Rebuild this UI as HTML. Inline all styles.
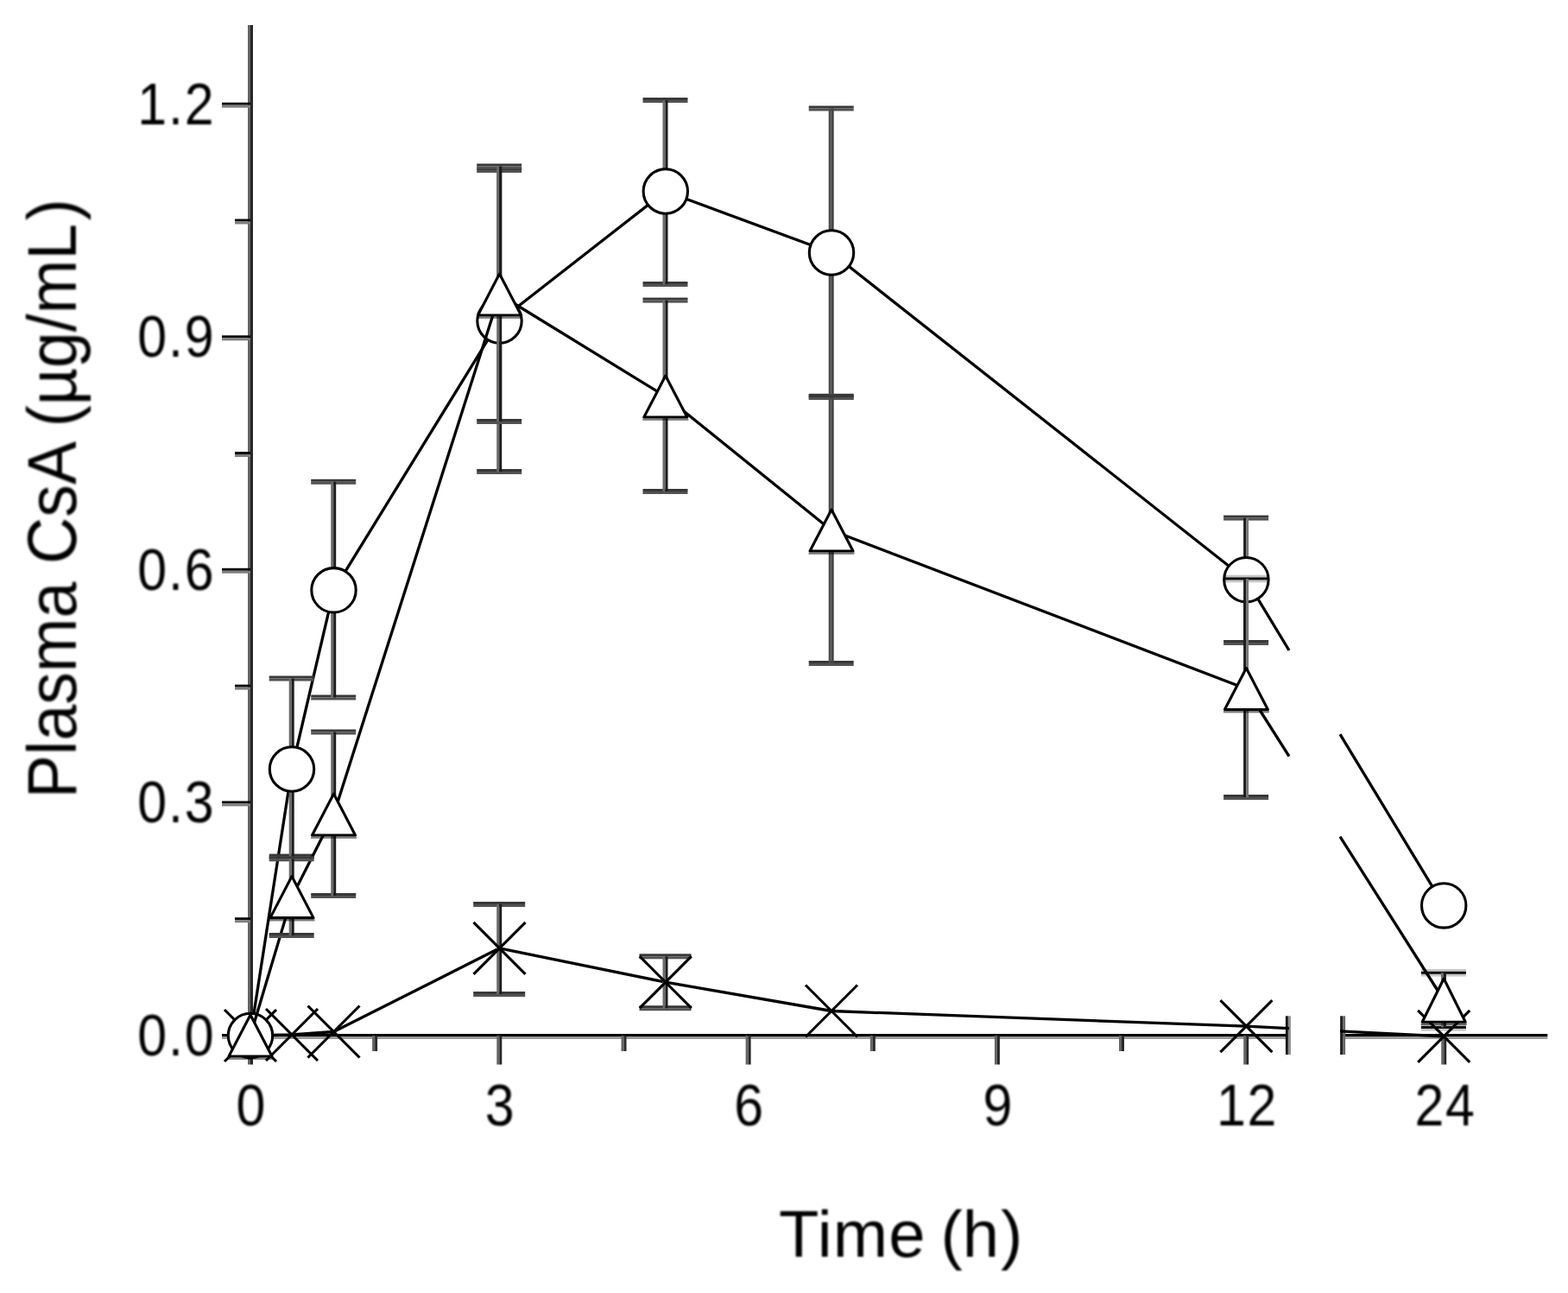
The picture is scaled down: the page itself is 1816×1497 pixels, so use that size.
<!DOCTYPE html>
<html lang="en">
<head>
<meta charset="utf-8">
<title>Plasma CsA vs Time</title>
<style>
  html, body { margin: 0; padding: 0; background: #ffffff; }
  body { width: 1816px; height: 1497px; overflow: hidden; font-family: "Liberation Sans", Arial, Helvetica, sans-serif; }
  svg { display: block; }
  /* the reference type is a soft, up-scaled raster */
  #labels { filter: blur(0.8px); }
</style>
</head>
<body>
<svg width="1816" height="1497" viewBox="0 0 1816 1497" role="img" aria-label="Plasma CsA concentration versus time">
<rect x="0" y="0" width="1816" height="1497" fill="#ffffff"/>
<g id="axes">
<rect x="287.0" y="29.0" width="3.0" height="1173.0" fill="#646464"/>
<rect x="290.0" y="29.0" width="3.0" height="1173.0" fill="#282828"/>
<rect x="257.0" y="1197.0" width="1234.5" height="3.0" fill="#000"/>
<rect x="257.0" y="1200.0" width="1234.5" height="3.0" fill="#9a9a9a"/>
<rect x="1554.5" y="1197.0" width="237.8" height="3.0" fill="#000"/>
<rect x="1554.5" y="1200.0" width="237.8" height="3.0" fill="#9a9a9a"/>
<rect x="257.0" y="927.4" width="33.0" height="3.0" fill="#0a0a0a"/>
<rect x="257.0" y="930.4" width="33.0" height="3.0" fill="#7e7e7e"/>
<rect x="257.0" y="657.8" width="33.0" height="3.0" fill="#0a0a0a"/>
<rect x="257.0" y="660.8" width="33.0" height="3.0" fill="#7e7e7e"/>
<rect x="257.0" y="388.3" width="33.0" height="3.0" fill="#0a0a0a"/>
<rect x="257.0" y="391.3" width="33.0" height="3.0" fill="#7e7e7e"/>
<rect x="257.0" y="118.7" width="33.0" height="3.0" fill="#0a0a0a"/>
<rect x="257.0" y="121.7" width="33.0" height="3.0" fill="#7e7e7e"/>
<rect x="272.0" y="1062.2" width="18.0" height="3.0" fill="#0a0a0a"/>
<rect x="272.0" y="1065.2" width="18.0" height="3.0" fill="#7e7e7e"/>
<rect x="272.0" y="792.6" width="18.0" height="3.0" fill="#0a0a0a"/>
<rect x="272.0" y="795.6" width="18.0" height="3.0" fill="#7e7e7e"/>
<rect x="272.0" y="523.0" width="18.0" height="3.0" fill="#0a0a0a"/>
<rect x="272.0" y="526.0" width="18.0" height="3.0" fill="#7e7e7e"/>
<rect x="272.0" y="253.5" width="18.0" height="3.0" fill="#0a0a0a"/>
<rect x="272.0" y="256.5" width="18.0" height="3.0" fill="#7e7e7e"/>
<rect x="287.0" y="1199.0" width="3.0" height="33.5" fill="#646464"/>
<rect x="290.0" y="1199.0" width="3.0" height="33.5" fill="#282828"/>
<rect x="575.3" y="1199.0" width="3.0" height="33.5" fill="#646464"/>
<rect x="578.3" y="1199.0" width="3.0" height="33.5" fill="#282828"/>
<rect x="863.6" y="1199.0" width="3.0" height="33.5" fill="#646464"/>
<rect x="866.6" y="1199.0" width="3.0" height="33.5" fill="#282828"/>
<rect x="1151.9" y="1199.0" width="3.0" height="33.5" fill="#646464"/>
<rect x="1154.9" y="1199.0" width="3.0" height="33.5" fill="#282828"/>
<rect x="1440.2" y="1199.0" width="3.0" height="33.5" fill="#646464"/>
<rect x="1443.2" y="1199.0" width="3.0" height="33.5" fill="#282828"/>
<rect x="1669.2" y="1199.0" width="3.0" height="33.5" fill="#646464"/>
<rect x="1672.2" y="1199.0" width="3.0" height="33.5" fill="#282828"/>
<rect x="431.1" y="1199.0" width="3.0" height="18.0" fill="#646464"/>
<rect x="434.1" y="1199.0" width="3.0" height="18.0" fill="#282828"/>
<rect x="719.5" y="1199.0" width="3.0" height="18.0" fill="#646464"/>
<rect x="722.5" y="1199.0" width="3.0" height="18.0" fill="#282828"/>
<rect x="1007.8" y="1199.0" width="3.0" height="18.0" fill="#646464"/>
<rect x="1010.8" y="1199.0" width="3.0" height="18.0" fill="#282828"/>
<rect x="1296.0" y="1199.0" width="3.0" height="18.0" fill="#646464"/>
<rect x="1299.0" y="1199.0" width="3.0" height="18.0" fill="#282828"/>
<rect x="1488.9" y="1176.3" width="3.0" height="44.7" fill="#161616"/>
<rect x="1491.9" y="1176.3" width="3.0" height="44.7" fill="#8c8c8c"/>
<rect x="1552.1" y="1176.3" width="3.0" height="44.7" fill="#222"/>
<rect x="1555.1" y="1176.3" width="3.0" height="44.7" fill="#666"/>
</g>
<g id="series-x">
<polyline points="290.0,1199.0 338.0,1198.0 386.5,1194.5 578.5,1097.8 770.8,1137.2 963.0,1170.5 1443.4,1188.2" fill="none" stroke="#000" stroke-width="3.3" stroke-linejoin="round"/>
<line x1="1443.4" y1="1188.2" x2="1493.0" y2="1190.7" stroke="#000" stroke-width="3.3"/>
<line x1="1552.0" y1="1193.8" x2="1672.2" y2="1199.9" stroke="#000" stroke-width="3.3"/>
<rect x="548.2" y="1044.0" width="60.0" height="3.0" fill="#383838"/>
<rect x="548.2" y="1047.0" width="60.0" height="3.0" fill="#525252"/>
<rect x="548.2" y="1148.0" width="60.0" height="3.0" fill="#383838"/>
<rect x="548.2" y="1151.0" width="60.0" height="3.0" fill="#525252"/>
<rect x="575.2" y="1047.0" width="3.0" height="104.0" fill="#6a6a6a"/>
<rect x="578.2" y="1047.0" width="3.0" height="104.0" fill="#1c1c1c"/>
<rect x="740.5" y="1104.3" width="60.0" height="3.0" fill="#383838"/>
<rect x="740.5" y="1107.3" width="60.0" height="3.0" fill="#525252"/>
<rect x="740.5" y="1164.2" width="60.0" height="3.0" fill="#383838"/>
<rect x="740.5" y="1167.2" width="60.0" height="3.0" fill="#525252"/>
<rect x="767.5" y="1107.3" width="3.0" height="59.9" fill="#6a6a6a"/>
<rect x="770.5" y="1107.3" width="3.0" height="59.9" fill="#1c1c1c"/>
<line x1="260.0" y1="1169.0" x2="320.0" y2="1229.0" stroke="#000" stroke-width="3.1"/>
<line x1="260.0" y1="1229.0" x2="320.0" y2="1169.0" stroke="#000" stroke-width="3.1"/>
<line x1="308.0" y1="1168.0" x2="368.0" y2="1228.0" stroke="#000" stroke-width="3.1"/>
<line x1="308.0" y1="1228.0" x2="368.0" y2="1168.0" stroke="#000" stroke-width="3.1"/>
<line x1="356.5" y1="1164.5" x2="416.5" y2="1224.5" stroke="#000" stroke-width="3.1"/>
<line x1="356.5" y1="1224.5" x2="416.5" y2="1164.5" stroke="#000" stroke-width="3.1"/>
<line x1="548.5" y1="1067.8" x2="608.5" y2="1127.8" stroke="#000" stroke-width="3.1"/>
<line x1="548.5" y1="1127.8" x2="608.5" y2="1067.8" stroke="#000" stroke-width="3.1"/>
<line x1="740.8" y1="1107.2" x2="800.8" y2="1167.2" stroke="#000" stroke-width="3.1"/>
<line x1="740.8" y1="1167.2" x2="800.8" y2="1107.2" stroke="#000" stroke-width="3.1"/>
<line x1="933.0" y1="1140.5" x2="993.0" y2="1200.5" stroke="#000" stroke-width="3.1"/>
<line x1="933.0" y1="1200.5" x2="993.0" y2="1140.5" stroke="#000" stroke-width="3.1"/>
<line x1="1413.4" y1="1158.2" x2="1473.4" y2="1218.2" stroke="#000" stroke-width="3.1"/>
<line x1="1413.4" y1="1218.2" x2="1473.4" y2="1158.2" stroke="#000" stroke-width="3.1"/>
<line x1="1642.2" y1="1169.9" x2="1702.2" y2="1229.9" stroke="#000" stroke-width="3.1"/>
<line x1="1642.2" y1="1229.9" x2="1702.2" y2="1169.9" stroke="#000" stroke-width="3.1"/>
</g>
<g id="series-circle">
<polyline points="290.0,1199.0 338.0,890.5 386.5,683.3 578.5,371.5 770.8,221.5 963.0,292.5 1443.4,671.2" fill="none" stroke="#000" stroke-width="3.3" stroke-linejoin="round"/>
<line x1="1443.4" y1="671.2" x2="1493.0" y2="753.0" stroke="#000" stroke-width="3.3"/>
<line x1="1552.0" y1="850.2" x2="1672.2" y2="1048.4" stroke="#000" stroke-width="3.3"/>
<rect x="311.7" y="782.5" width="52.0" height="3.0" fill="#383838"/>
<rect x="311.7" y="785.5" width="52.0" height="3.0" fill="#525252"/>
<rect x="311.7" y="988.6" width="52.0" height="3.0" fill="#383838"/>
<rect x="311.7" y="991.6" width="52.0" height="3.0" fill="#525252"/>
<rect x="334.7" y="785.5" width="3.0" height="206.1" fill="#6a6a6a"/>
<rect x="337.7" y="785.5" width="3.0" height="206.1" fill="#1c1c1c"/>
<rect x="360.2" y="554.8" width="52.0" height="3.0" fill="#383838"/>
<rect x="360.2" y="557.8" width="52.0" height="3.0" fill="#525252"/>
<rect x="360.2" y="804.5" width="52.0" height="3.0" fill="#383838"/>
<rect x="360.2" y="807.5" width="52.0" height="3.0" fill="#525252"/>
<rect x="383.2" y="557.8" width="3.0" height="249.7" fill="#6a6a6a"/>
<rect x="386.2" y="557.8" width="3.0" height="249.7" fill="#1c1c1c"/>
<rect x="552.2" y="194.0" width="52.0" height="3.0" fill="#383838"/>
<rect x="552.2" y="197.0" width="52.0" height="3.0" fill="#525252"/>
<rect x="552.2" y="543.0" width="52.0" height="3.0" fill="#383838"/>
<rect x="552.2" y="546.0" width="52.0" height="3.0" fill="#525252"/>
<rect x="575.2" y="197.0" width="3.0" height="349.0" fill="#6a6a6a"/>
<rect x="578.2" y="197.0" width="3.0" height="349.0" fill="#1c1c1c"/>
<rect x="744.5" y="113.0" width="52.0" height="3.0" fill="#383838"/>
<rect x="744.5" y="116.0" width="52.0" height="3.0" fill="#525252"/>
<rect x="744.5" y="326.0" width="52.0" height="3.0" fill="#383838"/>
<rect x="744.5" y="329.0" width="52.0" height="3.0" fill="#525252"/>
<rect x="767.5" y="116.0" width="3.0" height="213.0" fill="#6a6a6a"/>
<rect x="770.5" y="116.0" width="3.0" height="213.0" fill="#1c1c1c"/>
<rect x="936.7" y="122.5" width="52.0" height="3.0" fill="#383838"/>
<rect x="936.7" y="125.5" width="52.0" height="3.0" fill="#525252"/>
<rect x="936.7" y="455.8" width="52.0" height="3.0" fill="#383838"/>
<rect x="936.7" y="458.8" width="52.0" height="3.0" fill="#525252"/>
<rect x="959.7" y="125.5" width="3.0" height="333.3" fill="#4c4c4c"/>
<rect x="962.7" y="125.5" width="3.0" height="333.3" fill="#464646"/>
<rect x="1417.1" y="596.6" width="52.0" height="3.0" fill="#383838"/>
<rect x="1417.1" y="599.6" width="52.0" height="3.0" fill="#525252"/>
<rect x="1417.1" y="741.0" width="52.0" height="3.0" fill="#383838"/>
<rect x="1417.1" y="744.0" width="52.0" height="3.0" fill="#525252"/>
<rect x="1440.1" y="599.6" width="3.0" height="144.4" fill="#1c1c1c"/>
<rect x="1443.1" y="599.6" width="3.0" height="144.4" fill="#767676"/>
<circle cx="290.0" cy="1199.0" r="25.7" fill="#fff" stroke="#000" stroke-width="3.1"/>
<circle cx="338.0" cy="890.5" r="25.7" fill="#fff" stroke="#000" stroke-width="3.1"/>
<circle cx="386.5" cy="683.3" r="25.7" fill="#fff" stroke="#000" stroke-width="3.1"/>
<circle cx="578.5" cy="371.5" r="25.7" fill="#fff" stroke="#000" stroke-width="3.1"/>
<circle cx="770.8" cy="221.5" r="25.7" fill="#fff" stroke="#000" stroke-width="3.1"/>
<circle cx="963.0" cy="292.5" r="25.7" fill="#fff" stroke="#000" stroke-width="3.1"/>
<circle cx="1443.4" cy="671.2" r="25.7" fill="#fff" stroke="#000" stroke-width="3.1"/>
<circle cx="1672.2" cy="1048.4" r="25.7" fill="#fff" stroke="#000" stroke-width="3.1"/>
</g>
<g id="series-triangle">
<polyline points="290.0,1199.0 338.0,1038.6 386.5,943.0 578.5,341.0 770.8,459.0 963.0,614.0 1443.4,797.5" fill="none" stroke="#000" stroke-width="3.3" stroke-linejoin="round"/>
<line x1="1443.4" y1="797.5" x2="1493.0" y2="875.7" stroke="#000" stroke-width="3.3"/>
<line x1="1552.0" y1="968.6" x2="1672.2" y2="1158.0" stroke="#000" stroke-width="3.3"/>
<rect x="311.7" y="991.3" width="52.0" height="3.0" fill="#383838"/>
<rect x="311.7" y="994.3" width="52.0" height="3.0" fill="#525252"/>
<rect x="311.7" y="1080.0" width="52.0" height="3.0" fill="#383838"/>
<rect x="311.7" y="1083.0" width="52.0" height="3.0" fill="#525252"/>
<rect x="334.7" y="994.3" width="3.0" height="88.7" fill="#6a6a6a"/>
<rect x="337.7" y="994.3" width="3.0" height="88.7" fill="#1c1c1c"/>
<rect x="360.2" y="844.5" width="52.0" height="3.0" fill="#383838"/>
<rect x="360.2" y="847.5" width="52.0" height="3.0" fill="#525252"/>
<rect x="360.2" y="1034.0" width="52.0" height="3.0" fill="#383838"/>
<rect x="360.2" y="1037.0" width="52.0" height="3.0" fill="#525252"/>
<rect x="383.2" y="847.5" width="3.0" height="189.5" fill="#6a6a6a"/>
<rect x="386.2" y="847.5" width="3.0" height="189.5" fill="#1c1c1c"/>
<rect x="552.2" y="189.5" width="52.0" height="3.0" fill="#383838"/>
<rect x="552.2" y="192.5" width="52.0" height="3.0" fill="#525252"/>
<rect x="552.2" y="485.0" width="52.0" height="3.0" fill="#383838"/>
<rect x="552.2" y="488.0" width="52.0" height="3.0" fill="#525252"/>
<rect x="575.2" y="192.5" width="3.0" height="295.5" fill="#6a6a6a"/>
<rect x="578.2" y="192.5" width="3.0" height="295.5" fill="#1c1c1c"/>
<rect x="744.5" y="344.6" width="52.0" height="3.0" fill="#383838"/>
<rect x="744.5" y="347.6" width="52.0" height="3.0" fill="#525252"/>
<rect x="744.5" y="566.0" width="52.0" height="3.0" fill="#383838"/>
<rect x="744.5" y="569.0" width="52.0" height="3.0" fill="#525252"/>
<rect x="767.5" y="347.6" width="3.0" height="221.4" fill="#6a6a6a"/>
<rect x="770.5" y="347.6" width="3.0" height="221.4" fill="#1c1c1c"/>
<rect x="936.7" y="457.0" width="52.0" height="3.0" fill="#383838"/>
<rect x="936.7" y="460.0" width="52.0" height="3.0" fill="#525252"/>
<rect x="936.7" y="765.0" width="52.0" height="3.0" fill="#383838"/>
<rect x="936.7" y="768.0" width="52.0" height="3.0" fill="#525252"/>
<rect x="959.7" y="460.0" width="3.0" height="308.0" fill="#4c4c4c"/>
<rect x="962.7" y="460.0" width="3.0" height="308.0" fill="#464646"/>
<rect x="1417.1" y="665.7" width="52.0" height="8.6" fill="#000" fill-opacity="0.22"/>
<rect x="1417.1" y="668.5" width="52.0" height="2.9" fill="#0a0a0a"/>
<rect x="1417.1" y="920.0" width="52.0" height="3.0" fill="#383838"/>
<rect x="1417.1" y="923.0" width="52.0" height="3.0" fill="#525252"/>
<rect x="1440.1" y="670.0" width="3.0" height="253.0" fill="#1c1c1c"/>
<rect x="1443.1" y="670.0" width="3.0" height="253.0" fill="#767676"/>
<rect x="1645.9" y="1121.9" width="52.0" height="8.6" fill="#000" fill-opacity="0.22"/>
<rect x="1645.9" y="1124.8" width="52.0" height="2.9" fill="#0a0a0a"/>
<rect x="1645.9" y="1185.1" width="52.0" height="8.6" fill="#000" fill-opacity="0.22"/>
<rect x="1645.9" y="1188.0" width="52.0" height="2.9" fill="#0a0a0a"/>
<rect x="1668.9" y="1126.2" width="3.0" height="63.2" fill="#6a6a6a"/>
<rect x="1671.9" y="1126.2" width="3.0" height="63.2" fill="#1c1c1c"/>
<polygon points="290.0,1175.0 265.0,1223.0 315.0,1223.0" fill="#fff" stroke="#000" stroke-width="3.1" stroke-linejoin="round"/>
<rect x="263.5" y="1224.5" width="53.0" height="2.4" fill="#000" fill-opacity="0.5"/>
<polygon points="338.0,1014.6 313.0,1062.6 363.0,1062.6" fill="#fff" stroke="#000" stroke-width="3.1" stroke-linejoin="round"/>
<rect x="311.5" y="1064.1" width="53.0" height="2.4" fill="#000" fill-opacity="0.5"/>
<polygon points="386.5,919.0 361.5,967.0 411.5,967.0" fill="#fff" stroke="#000" stroke-width="3.1" stroke-linejoin="round"/>
<rect x="360.0" y="968.5" width="53.0" height="2.4" fill="#000" fill-opacity="0.5"/>
<polygon points="578.5,317.0 553.5,365.0 603.5,365.0" fill="#fff" stroke="#000" stroke-width="3.1" stroke-linejoin="round"/>
<rect x="552.0" y="366.5" width="53.0" height="2.4" fill="#000" fill-opacity="0.5"/>
<polygon points="770.8,435.0 745.8,483.0 795.8,483.0" fill="#fff" stroke="#000" stroke-width="3.1" stroke-linejoin="round"/>
<rect x="744.3" y="484.5" width="53.0" height="2.4" fill="#000" fill-opacity="0.5"/>
<polygon points="963.0,590.0 938.0,638.0 988.0,638.0" fill="#fff" stroke="#000" stroke-width="3.1" stroke-linejoin="round"/>
<rect x="936.5" y="639.5" width="53.0" height="2.4" fill="#000" fill-opacity="0.5"/>
<polygon points="1443.4,773.5 1418.4,821.5 1468.4,821.5" fill="#fff" stroke="#000" stroke-width="3.1" stroke-linejoin="round"/>
<rect x="1416.9" y="823.0" width="53.0" height="2.4" fill="#000" fill-opacity="0.5"/>
<polygon points="1672.2,1133.0 1647.2,1183.2 1697.2,1183.2" fill="#fff" stroke="#000" stroke-width="3.1" stroke-linejoin="round"/>
<rect x="1645.7" y="1184.7" width="53.0" height="2.4" fill="#000" fill-opacity="0.5"/>
</g>
<g id="labels" font-family="'Liberation Sans', Arial, Helvetica, sans-serif" fill="#000">
<text transform="translate(249.5 1221.9) scale(0.885 1)" font-size="68.8" letter-spacing="2.1" text-anchor="end">0.0</text>
<text transform="translate(249.5 952.3) scale(0.885 1)" font-size="68.8" letter-spacing="2.1" text-anchor="end">0.3</text>
<text transform="translate(249.5 682.7) scale(0.885 1)" font-size="68.8" letter-spacing="2.1" text-anchor="end">0.6</text>
<text transform="translate(249.5 413.2) scale(0.885 1)" font-size="68.8" letter-spacing="2.1" text-anchor="end">0.9</text>
<text transform="translate(249.5 143.6) scale(0.885 1)" font-size="68.8" letter-spacing="2.1" text-anchor="end">1.2</text>
<text transform="translate(291.4 1303.0) scale(0.885 1)" font-size="68.8" letter-spacing="2.1" text-anchor="middle">0</text>
<text transform="translate(579.7 1303.0) scale(0.885 1)" font-size="68.8" letter-spacing="2.1" text-anchor="middle">3</text>
<text transform="translate(868.0 1303.0) scale(0.885 1)" font-size="68.8" letter-spacing="2.1" text-anchor="middle">6</text>
<text transform="translate(1156.3 1303.0) scale(0.885 1)" font-size="68.8" letter-spacing="2.1" text-anchor="middle">9</text>
<text transform="translate(1444.6 1303.0) scale(0.885 1)" font-size="68.8" letter-spacing="2.1" text-anchor="middle">12</text>
<text transform="translate(1674.1 1303.0) scale(0.885 1)" font-size="68.8" letter-spacing="2.1" text-anchor="middle">24</text>
<text transform="translate(1043.2 1455.0) scale(0.991 1)" font-size="76.8" text-anchor="middle"><tspan letter-spacing="1.1">Time</tspan><tspan dx="-4.4"> (h</tspan><tspan dx="2">)</tspan></text>
<text transform="translate(87.8 577.3) rotate(-90) scale(0.9487 1)" font-size="79.2" text-anchor="middle">Plasma CsA (µg/mL<tspan dx="3.9">)</tspan></text>
</g>
</svg>
</body>
</html>
